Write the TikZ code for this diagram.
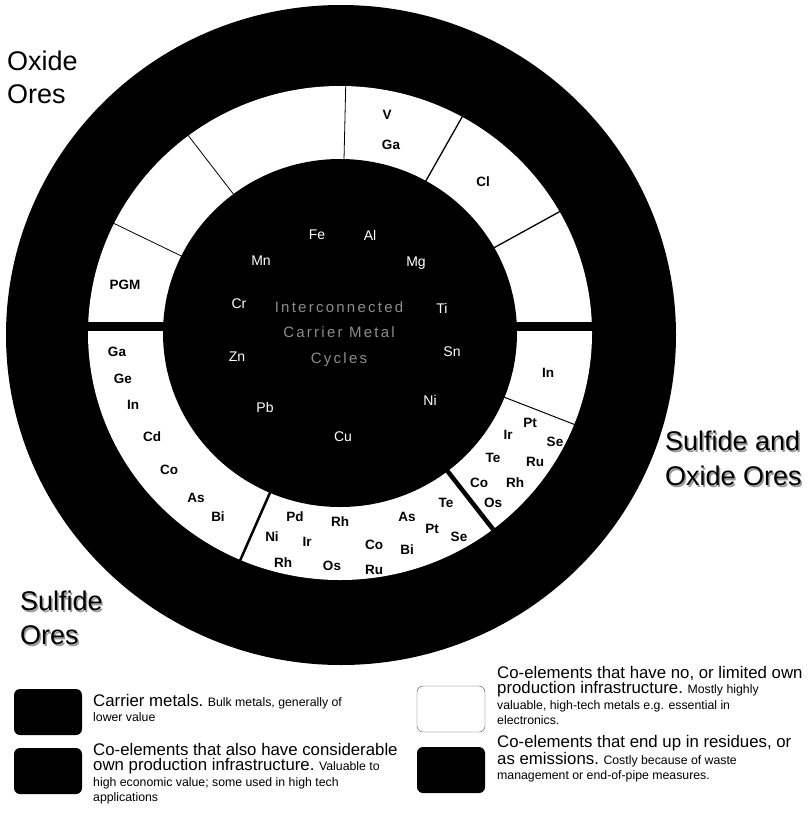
\documentclass[tikz,border=0pt]{standalone}
\usepackage{fontspec}
\setmainfont{Liberation Sans}
\newfontfamily\hubfont[LetterSpace=15]{Liberation Sans}
\usetikzlibrary{positioning}

\tikzset{
  carrier/.style={text=white, inner sep=0pt, font=\fontsize{14}{16}\selectfont},
  coel/.style={text=black, inner sep=0pt, font=\bfseries\fontsize{13.5}{16}\selectfont},
  ore/.style={align=left, anchor=north west, inner sep=0pt},
  keybox/.style={rounded corners=6pt, minimum width=68pt, minimum height=46pt, inner sep=0pt},
  keytext/.style={align=left, anchor=north west, inner sep=0pt, font=\fontsize{12.3}{15.5}\selectfont},
}
\newcommand{\keyhead}[1]{{\fontsize{16.8}{15.5}\selectfont #1}}

\begin{document}
\begin{tikzpicture}[x=1pt, y=-1pt]
  \useasboundingbox (0,0) rectangle (808,828);

  % rings
  \fill (341,335) ellipse [x radius=335pt, y radius=330pt];
  \fill[white] (340,333) ellipse [x radius=252pt, y radius=247pt];
  \fill (80,322) rectangle (600,331);
  \foreach \a/\w in {88.7/0.8, 127/0.8, 153.7/0.8, 61/1.3, 29.4/1.3, -21.7/1, -52.6/4.5, -113.3/2.5}
    \draw[shift={(340,333)}, line width=\w pt] (-\a:170 and 167) -- (-\a:258 and 253);
  \fill (340,333) ellipse [x radius=177pt, y radius=174pt];

  % carrier metals
  \node[text=black!45, align=center, inner sep=0pt, font=\hubfont\fontsize{15}{25.5}\selectfont] (hub) at (339,334) {Interconnected\\Carrier Metal\\Cycles};
  \node[carrier] (fe) at (317,235) {Fe};
  \node[carrier] (al) at (370,235) {Al};
  \node[carrier] (mn) at (261,261) {Mn};
  \node[carrier] (mg) at (416,263) {Mg};
  \node[carrier] (cr) at (239,304) {Cr};
  \node[carrier] (ti) at (442,308) {Ti};
  \node[carrier] (sn) at (452,352) {Sn};
  \node[carrier] (zn) at (237,357) {Zn};
  \node[carrier] (ni) at (430,400) {Ni};
  \node[carrier] (pb) at (265,407) {Pb};
  \node[carrier] (cu) at (343,437) {Cu};

  % co-elements, upper half
  \node[coel] (vT) at (387,115) {V};
  \node[coel] (gaT) at (391,145) {Ga};
  \node[coel] (clT) at (483,182) {Cl};
  \node[coel] (pgmT) at (125,285) {PGM};
  \node[coel] (inR) at (548,373) {In};

  % co-elements, right segment
  \node[coel] (ptR) at (530,423) {Pt};
  \node[coel] (irR) at (508,435) {Ir};
  \node[coel] (seR) at (555,442) {Se};
  \node[coel] (teR) at (493,458) {Te};
  \node[coel] (ruR) at (535,462) {Ru};
  \node[coel] (coR) at (479,483) {Co};
  \node[coel] (rhR) at (515,483) {Rh};
  \node[coel] (osR) at (493,503) {Os};

  % co-elements, bottom segment
  \node[coel] (pdB) at (295,517) {Pd};
  \node[coel] (rhB) at (340,522) {Rh};
  \node[coel] (niB) at (272,537) {Ni};
  \node[coel] (irB) at (307,542) {Ir};
  \node[coel] (rhBB) at (283,563) {Rh};
  \node[coel] (osB) at (332,566) {Os};
  \node[coel] (coB) at (374,545) {Co};
  \node[coel] (ruB) at (374,570) {Ru};
  \node[coel] (asB) at (407,517) {As};
  \node[coel] (biB) at (407,550) {Bi};
  \node[coel] (ptB) at (432,529) {Pt};
  \node[coel] (teB) at (446,503) {Te};
  \node[coel] (seB) at (459,537) {Se};

  % co-elements, left segment
  \node[coel] (gaL) at (117,352) {Ga};
  \node[coel] (geL) at (123,379) {Ge};
  \node[coel] (inL) at (133,405) {In};
  \node[coel] (cdL) at (152,437) {Cd};
  \node[coel] (coL) at (169,470) {Co};
  \node[coel] (asL) at (196,498) {As};
  \node[coel] (biL) at (218,517) {Bi};

  % ore types
  \node[ore, font=\fontsize{27}{33}\selectfont] (oxide) at (7,51) {Oxide\\Ores};
  \node[ore, text=black!40, font=\fontsize{27}{35}\selectfont] (mixedshadow) at (666.5,432.5) {Sulfide and\\Oxide Ores};
  \node[ore, font=\fontsize{27}{35}\selectfont] (mixed) at (665,431) {Sulfide and\\Oxide Ores};
  \node[ore, text=black!40, font=\fontsize{27}{34}\selectfont] (sulfshadow) at (21.5,592.5) {Sulfide\\Ores};
  \node[ore, font=\fontsize{27}{34}\selectfont] (sulf) at (20,591) {Sulfide\\Ores};

  % key
  \node[keybox, fill=black] (carrierkey) at (48,712) {};
  \node[keybox, fill=black] (strongkey) at (48,771) {};
  \node[keybox, fill=white, draw=black!70] (weakkey) at (451,709) {};
  \node[keybox, fill=black] (residuekey) at (451,770) {};

  \node[keytext] (carriertext) at (93,694) {\keyhead{Carrier metals.} Bulk metals, generally of\\lower value};
  \node[keytext] (strongtext) at (93,743) {\keyhead{Co-elements that also have considerable}\\\keyhead{own production infrastructure.} Valuable to\\high economic value; some used in high tech\\applications};
  \node[keytext] (weaktext) at (497,666) {\keyhead{Co-elements that have no, or limited own}\\\keyhead{production infrastructure.} Mostly highly\\valuable, high-tech metals e.g. essential in\\electronics.};
  \node[keytext] (residuetext) at (497,735) {\keyhead{Co-elements that end up in residues, or}\\\keyhead{as emissions.} Costly because of waste\\management or end-of-pipe measures.};
\end{tikzpicture}
\end{document}
